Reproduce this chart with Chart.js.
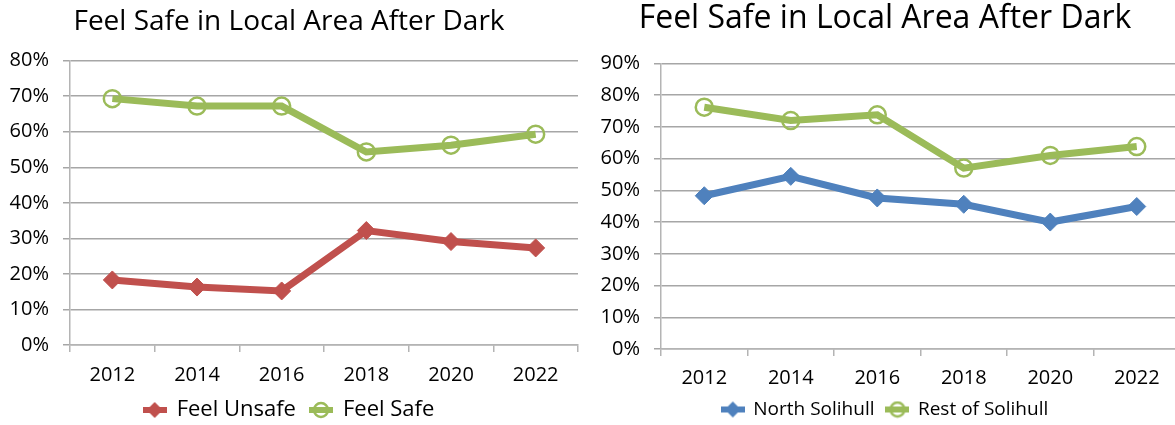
<!DOCTYPE html>
<html>
<head>
<meta charset="utf-8">
<script src="https://cdn.jsdelivr.net/npm/chart.js@4.4.0/dist/chart.umd.min.js"></script>
<style>
  html, body { margin: 0; padding: 0; background: #fff; overflow: hidden; }
  .wrap { position: absolute; top: 0; height: 425px; }
  #w1 { left: 0; width: 591px; }
  #w2 { left: 590px; width: 602px; }
</style>
</head>
<body>
<div class="wrap" id="w1"><canvas id="leftChart"></canvas></div>
<div class="wrap" id="w2"><canvas id="rightChart"></canvas></div>
<script>
const years = ['2012', '2014', '2016', '2018', '2020', '2022'];

// left chart (percent)
const feelUnsafe = [18.3, 16.3, 15.2, 32.2, 29.1, 27.3];
const feelSafe = [69.3, 67.2, 67.2, 54.3, 56.2, 59.3];

// right chart (percent)
const northSolihull = [48.3, 54.4, 47.6, 45.6, 40.0, 44.9];
const restOfSolihull = [76.2, 72.0, 73.8, 57.0, 61.0, 63.8];

const RED = '#C0504D';
const GREEN = '#9BBB59';
const BLUE = '#4F81BD';
const FONT = "'Open Sans', 'Noto Sans', sans-serif";

// small line+marker picture for the legend, like Excel does
function legendIcon(color, style) {
    const c = document.createElement('canvas');
    c.width = 24; c.height = 18;
    const g = c.getContext('2d');
    g.strokeStyle = color;
    g.lineWidth = 6;
    g.beginPath(); g.moveTo(0, 9); g.lineTo(24, 9); g.stroke();
    if (style === 'diamond') {
        g.fillStyle = color;
        g.beginPath();
        g.moveTo(12, 1); g.lineTo(20, 9); g.lineTo(12, 17); g.lineTo(4, 9);
        g.closePath(); g.fill();
    } else {
        g.lineWidth = 2.5;
        g.beginPath(); g.arc(12, 9, 7, 0, Math.PI * 2); g.stroke();
    }
    return c;
}

// cfg holds the few size tweaks that differ between the two charts
function makeChart(id, title, yMax, series, cfg) {
    const ctx = document.getElementById(id).getContext('2d');
    return new Chart(ctx, {
        type: 'line',
        data: {
            labels: years,
            datasets: series.map(function (s) {
                const diamond = s.marker === 'diamond';
                return {
                    label: s.label,
                    data: s.data,
                    borderColor: s.color,
                    backgroundColor: s.color,
                    borderWidth: 7,
                    tension: 0,
                    pointStyle: diamond ? 'rectRot' : 'circle',
                    pointRadius: diamond ? 9 : 8.5,
                    pointBorderWidth: diamond ? 1 : 2.5,
                    pointBackgroundColor: diamond ? s.color : 'rgba(0,0,0,0)',
                    pointBorderColor: s.color,
                    icon: legendIcon(s.color, s.marker)
                };
            })
        },
        options: {
            responsive: true,
            maintainAspectRatio: false,
            animation: false,
            layout: { padding: { left: 0, right: cfg.padRight, top: cfg.padTop, bottom: cfg.padBottom } },
            plugins: {
                title: {
                    display: true,
                    text: title,
                    color: '#000',
                    font: { family: FONT, size: cfg.titleSize, weight: 'normal' },
                    padding: { top: cfg.titleTop, bottom: cfg.titleBottom }
                },
                legend: {
                    position: 'bottom',
                    labels: {
                        color: '#000',
                        font: { family: FONT, size: cfg.legendSize },
                        usePointStyle: true,
                        pointStyleWidth: 22,
                        padding: cfg.legendPad,
                        generateLabels: function (chart) {
                            return chart.data.datasets.map(function (d, i) {
                                return {
                                    text: d.label,
                                    fontColor: '#000',
                                    pointStyle: d.icon,
                                    datasetIndex: i,
                                    hidden: false,
                                    lineWidth: 0
                                };
                            });
                        }
                    }
                },
                tooltip: { enabled: false }
            },
            scales: {
                x: {
                    offset: true,
                    afterFit: function (axis) { axis.height = cfg.xHeight; },
                    grid: {
                        offset: true,
                        drawOnChartArea: false,
                        color: '#b4b4b4',
                        lineWidth: 1.5,
                        tickLength: 7
                    },
                    border: { color: '#b4b4b4', width: 1.5 },
                    ticks: {
                        color: '#000',
                        font: { family: FONT, size: 20, lineHeight: 1 },
                        padding: cfg.xPad
                    }
                },
                y: {
                    min: 0,
                    max: yMax,
                    afterFit: function (axis) { axis.width = cfg.yWidth; },
                    grid: {
                        color: '#a6a6a6',
                        lineWidth: 1.5,
                        tickLength: 7
                    },
                    border: { color: '#b4b4b4', width: 1.5 },
                    ticks: {
                        stepSize: 10,
                        color: '#000',
                        font: { family: FONT, size: 20 },
                        padding: 14,
                        callback: function (value) {
                            return value + '%';
                        }
                    }
                }
            }
        }
    });
}

makeChart('leftChart', 'Feel Safe in Local Area After Dark', 80, [
    { label: 'Feel Unsafe', data: feelUnsafe, color: RED, marker: 'diamond' },
    { label: 'Feel Safe', data: feelSafe, color: GREEN, marker: 'circle' }
], {
    titleSize: 28, titleTop: 3, titleBottom: 22, padTop: 2, padBottom: -6, padRight: 13,
    legendSize: 22, legendPad: 14, xPad: 13, xHeight: 40, yWidth: 70
});

makeChart('rightChart', 'Feel Safe in Local Area After Dark', 90, [
    { label: 'North Solihull', data: northSolihull, color: BLUE, marker: 'diamond' },
    { label: 'Rest of Solihull', data: restOfSolihull, color: GREEN, marker: 'circle' }
], {
    titleSize: 32, titleTop: 0, titleBottom: 25, padTop: 0, padBottom: -4, padRight: 12,
    legendSize: 19, legendPad: 12, xPad: 12, xHeight: 39, yWidth: 71
});
</script>
</body>
</html>
